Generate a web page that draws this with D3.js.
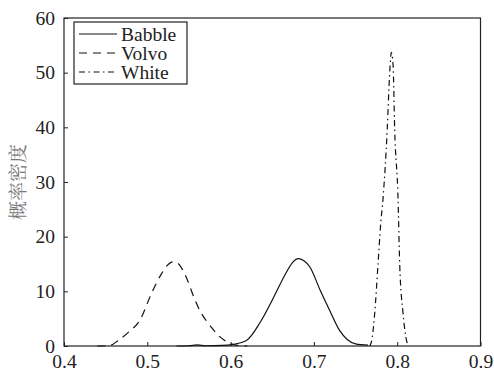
<!DOCTYPE html>
<html lang="en">
<head>
<meta charset="UTF-8">
<title>概率密度</title>
<script src="https://cdn.jsdelivr.net/npm/d3@7"></script>
<style>
  body { margin: 0; background: #fff; }
</style>
</head>
<body>
<div id="chart"></div>
<script>
// values
let xTicks = [0.4, 0.5, 0.6, 0.7, 0.8, 0.9]
let yTicks = [0, 10, 20, 30, 40, 50, 60]
let seriesNames = ['Babble', 'Volvo', 'White']

let babbleX = [0.535, 0.55, 0.56, 0.57, 0.59, 0.603, 0.619, 0.635, 0.651, 0.667, 0.675, 0.681, 0.688, 0.695, 0.707, 0.719, 0.731, 0.74, 0.75, 0.765]
let babbleY = [0, 0.05, 0.2, 0.05, 0.1, 0.3, 1.0, 4.2, 8.7, 13.5, 15.4, 16.0, 15.6, 14.5, 10.4, 6.5, 2.8, 1.2, 0.4, 0.15]

let volvoX = [0.44, 0.455, 0.465, 0.478, 0.491, 0.505, 0.517, 0.525, 0.531, 0.537, 0.541, 0.547, 0.555, 0.563, 0.57, 0.577, 0.585, 0.593, 0.6, 0.61, 0.62]
let volvoY = [0, 0.1, 1.0, 2.6, 4.7, 9.6, 13.2, 14.9, 15.4, 15.1, 14.3, 12.5, 9.3, 6.5, 4.8, 3.4, 2.0, 1.0, 0.4, 0.1, 0]

let whiteX = [0.767, 0.77, 0.773, 0.777, 0.78, 0.783, 0.788, 0.791, 0.793, 0.795, 0.797, 0.801, 0.803, 0.807, 0.81, 0.813]
let whiteY = [0, 1.5, 6, 15, 22, 27, 39.5, 50, 53.7, 51.5, 39.5, 27, 15, 6, 2, 0]

let width = 494, height = 380
let margin = {top: 18, right: 13.5, bottom: 34, left: 64}
let w = width - margin.left - margin.right
let h = height - margin.top - margin.bottom
let serifFont = '"Liberation Serif"'

let svg = d3.select('#chart').append('svg')
    .attr('width', width)
    .attr('height', height)

let g = svg.append('g')
    .attr('transform', `translate(${margin.left},${margin.top})`)

let x = d3.scaleLinear().domain([0.4, 0.9]).range([0, w])
let y = d3.scaleLinear().domain([0, 60]).range([h, 0])

let xAxis = g.append('g')
    .attr('transform', `translate(0,${h})`)
    .call(d3.axisBottom(x).tickValues(xTicks).tickSize(-4).tickPadding(8.5).tickFormat(d3.format('.1f')))
let yAxis = g.append('g')
    .call(d3.axisLeft(y).tickValues(yTicks).tickSize(-4).tickPadding(9))

;[xAxis, yAxis].forEach(a => {
    a.attr('font-family', null).attr('font-size', null)
    a.select('.domain').remove()
    a.selectAll('line').attr('stroke', '#222')
    a.selectAll('text')
        .style('font-family', serifFont)
        .style('font-size', '19.5px')
        .attr('fill', '#222')
})

g.append('rect')
    .attr('width', w).attr('height', h)
    .attr('fill', 'none').attr('stroke', '#222').attr('stroke-width', 1.2)

// y label
svg.append('text')
    .attr('transform', 'translate(25,182) rotate(-90)')
    .attr('text-anchor', 'middle')
    .style('font-family', '"Noto Serif CJK SC"')
    .style('font-size', '19px')
    .attr('fill', '#777')
    .text('概率密度')

let dashes = {Babble: null, Volvo: '8,6', White: '6,3.5,1.5,3.5'}
let series = [
    {name: 'Babble', xs: babbleX, ys: babbleY},
    {name: 'Volvo', xs: volvoX, ys: volvoY},
    {name: 'White', xs: whiteX, ys: whiteY}
]

let line = d3.line()
    .x(d => x(d[0]))
    .y(d => y(d[1]))
    .curve(d3.curveMonotoneX)

g.selectAll('.curve')
    .data(series)
    .join('path')
    .attr('class', 'curve')
    .attr('d', s => line(d3.zip(s.xs, s.ys)))
    .attr('fill', 'none')
    .attr('stroke', '#111')
    .attr('stroke-width', 1.2)
    .attr('stroke-dasharray', s => dashes[s.name])

// legend
let legend = svg.append('g').attr('transform', 'translate(74,22)')
legend.append('rect')
    .attr('width', 113).attr('height', 62)
    .attr('fill', '#fff').attr('stroke', '#222').attr('stroke-width', 1.2)

let item = legend.selectAll('.item')
    .data(seriesNames)
    .join('g')
    .attr('class', 'item')
    .attr('transform', (d, i) => `translate(0,${12 + i * 19})`)

item.append('line')
    .attr('x1', 5).attr('x2', 43)
    .attr('stroke', '#111').attr('stroke-width', 1.2)
    .attr('stroke-dasharray', d => dashes[d])
item.append('text')
    .attr('x', 47)
    .attr('dy', '0.35em')
    .style('font-family', serifFont)
    .style('font-size', '19.5px')
    .attr('fill', '#222')
    .text(d => d)
</script>
</body>
</html>
